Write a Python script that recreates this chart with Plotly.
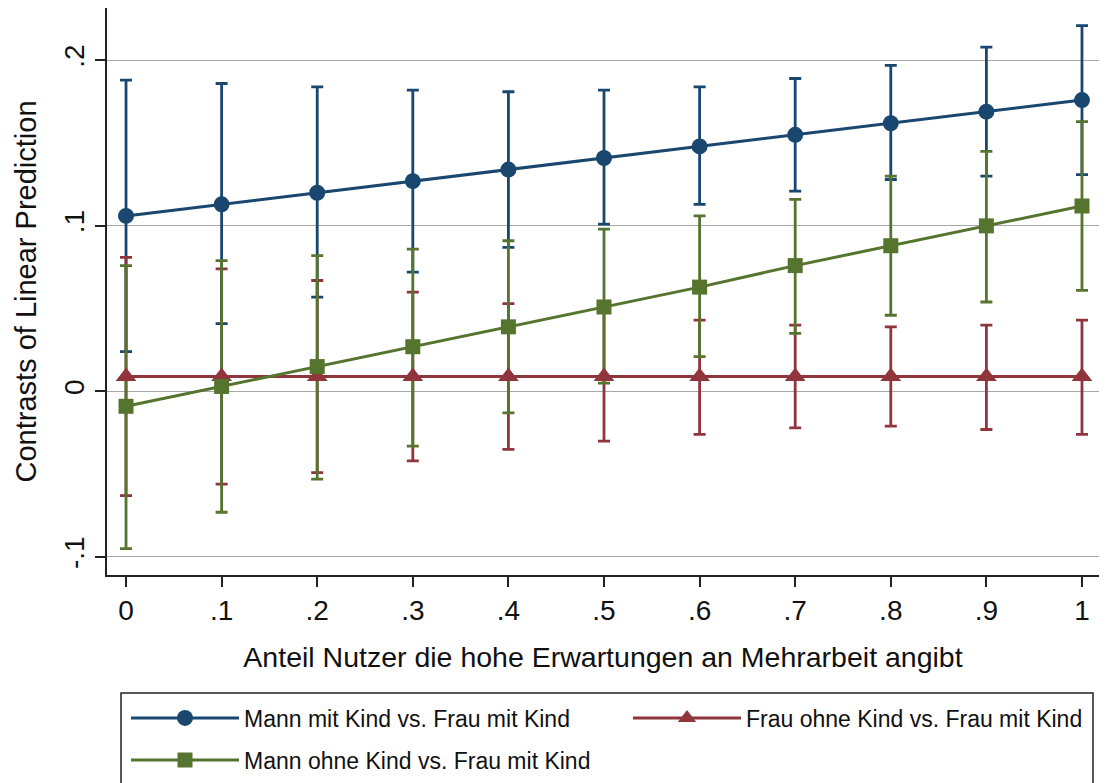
import plotly.graph_objects as go

# ---- data ----
x_vals = [0, 0.1, 0.2, 0.3, 0.4, 0.5, 0.6, 0.7, 0.8, 0.9, 1.0]
x_ticklabels = ["0", ".1", ".2", ".3", ".4", ".5", ".6", ".7", ".8", ".9", "1"]
y_tickvals = [-0.1, 0, 0.1, 0.2]
y_ticklabels = ["-.1", "0", ".1", ".2"]

names = ["Mann mit Kind vs. Frau mit Kind",
         "Frau ohne Kind vs. Frau mit Kind",
         "Mann ohne Kind vs. Frau mit Kind"]

blue_est = [0.106, 0.113, 0.120, 0.127, 0.134, 0.141, 0.148, 0.155, 0.162, 0.169, 0.176]
blue_lo = [0.024, 0.041, 0.057, 0.072, 0.087, 0.101, 0.113, 0.121, 0.128, 0.130, 0.131]
blue_hi = [0.188, 0.186, 0.184, 0.182, 0.181, 0.182, 0.184, 0.189, 0.197, 0.208, 0.221]

red_est = [0.009, 0.009, 0.009, 0.009, 0.009, 0.009, 0.009, 0.009, 0.009, 0.009, 0.009]
red_lo = [-0.063, -0.056, -0.049, -0.042, -0.035, -0.030, -0.026, -0.022, -0.021, -0.023, -0.026]
red_hi = [0.081, 0.074, 0.067, 0.060, 0.053, 0.048, 0.043, 0.040, 0.039, 0.040, 0.043]

green_est = [-0.009, 0.003, 0.015, 0.027, 0.039, 0.051, 0.063, 0.076, 0.088, 0.100, 0.112]
green_lo = [-0.095, -0.073, -0.053, -0.033, -0.013, 0.005, 0.021, 0.035, 0.046, 0.054, 0.061]
green_hi = [0.076, 0.079, 0.082, 0.086, 0.091, 0.098, 0.106, 0.116, 0.130, 0.145, 0.163]

# ---- styles ----
BLUE = "#1a476f"
RED = "#90353b"
GREEN = "#55752f"
FONT = "Liberation Sans, Arial, sans-serif"

series = [
    (names[0], blue_est, blue_lo, blue_hi, BLUE, "circle", 16, "legend"),
    (names[1], red_est, red_lo, red_hi, RED, "triangle-up", 18, "legend2"),
    (names[2], green_est, green_lo, green_hi, GREEN, "square", 15, "legend3"),
]

fig = go.Figure()

# confidence intervals first (drawn underneath all lines/markers)
for name, est, lo, hi, col, sym, sz, lg in series:
    fig.add_trace(go.Scatter(
        x=x_vals, y=est, mode="markers",
        marker=dict(size=2, opacity=0, color=col),
        error_y=dict(type="data", symmetric=False,
                     array=[h - e for h, e in zip(hi, est)],
                     arrayminus=[e - l for e, l in zip(est, lo)],
                     color=col, thickness=2.8, width=6),
        showlegend=False, hoverinfo="skip",
    ))

for name, est, lo, hi, col, sym, sz, lg in series:
    fig.add_trace(go.Scatter(
        x=x_vals, y=est, mode="lines+markers", name=name,
        line=dict(color=col, width=3),
        marker=dict(symbol=sym, size=sz, color=col),
        legend=lg,
    ))

# page is rendered with an 8px body margin -> work in page pixels, subtract OFF
OFF = 8
W, H = 1115, 783
plot_left, plot_right, plot_top, plot_bottom = 107, 1099, 8, 575  # page px
ml = plot_left - OFF
mt = plot_top - OFF
mr = W - (plot_right - OFF)
mb = H - (plot_bottom - OFF)
pw, ph = W - ml - mr, H - mt - mb

def px_x(p):
    return (p - OFF - ml) / pw

def px_y(p):
    return (H - mb - (p - OFF)) / ph

legend_common = dict(
    orientation="v", xanchor="left", yanchor="middle",
    font=dict(family=FONT, size=23, color="#111111"),
    bgcolor="rgba(0,0,0,0)", borderwidth=0, itemwidth=108,
)

fig.update_layout(
    width=W, height=H,
    margin=dict(l=ml, r=mr, t=mt, b=mb, autoexpand=False),
    paper_bgcolor="white", plot_bgcolor="white",
    font=dict(family=FONT, color="#111111"),
    showlegend=True,
    legend=dict(x=px_x(126), y=px_y(718), **legend_common),
    legend2=dict(x=px_x(628), y=px_y(718), **legend_common),
    legend3=dict(x=px_x(126), y=px_y(760), **legend_common),
    xaxis=dict(
        range=[-0.0199, 1.0178],
        tickvals=x_vals, ticktext=x_ticklabels,
        ticks="outside", ticklen=10, tickwidth=1.5, tickcolor="#222222",
        showline=True, linecolor="#222222", linewidth=1.5,
        showgrid=False, zeroline=False,
        tickfont=dict(family=FONT, size=28, color="#111111"),
        title=dict(text="Anteil Nutzer die hohe Erwartungen an Mehrarbeit angibt",
                   font=dict(family=FONT, size=28.5, color="#111111"), standoff=22),
    ),
    yaxis=dict(
        range=[-0.1109, 0.2316],
        tickvals=y_tickvals, ticktext=y_ticklabels, tickangle=-90,
        ticks="outside", ticklen=10, tickwidth=1.5, tickcolor="#222222",
        showline=True, linecolor="#222222", linewidth=1.5,
        showgrid=True, gridcolor="#a8a8a8", gridwidth=1.3, zeroline=False,
        tickfont=dict(family=FONT, size=28, color="#111111"),
        title=dict(text="Contrasts of Linear Prediction",
                   font=dict(family=FONT, size=29, color="#111111"), standoff=14),
    ),
    shapes=[dict(type="rect", xref="paper", yref="paper",
                 x0=px_x(121), x1=px_x(1093), y0=px_y(693), y1=px_y(830),
                 line=dict(color="#222222", width=1.5), fillcolor="rgba(0,0,0,0)",
                 layer="above")],
)

fig.write_html("out.html")
